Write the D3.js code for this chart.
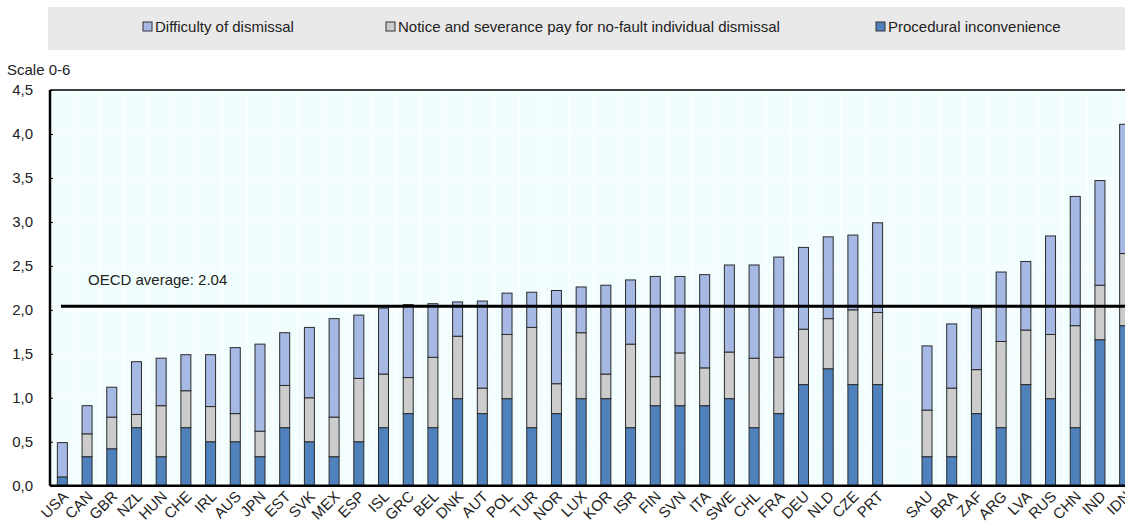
<!DOCTYPE html>
<html>
<head>
<meta charset="utf-8">
<script src="https://cdn.jsdelivr.net/npm/d3@7"></script>
<style>
  body { margin: 0; background: #fff; }
  text { font-family: "Liberation Sans", Arial, sans-serif; fill: #222; }
</style>
</head>
<body>
<div id="chart"></div>
<script>
var countries = ["USA","CAN","GBR","NZL","HUN","CHE","IRL","AUS","JPN","EST","SVK","MEX","ESP",
  "ISL","GRC","BEL","DNK","AUT","POL","TUR","NOR","LUX","KOR","ISR","FIN","SVN","ITA","SWE",
  "CHL","FRA","DEU","NLD","CZE","PRT","",
  "SAU","BRA","ZAF","ARG","LVA","RUS","CHN","IND","IDN"];

// procedural inconvenience (bottom)
var procedural = [0.10,0.33,0.42,0.66,0.33,0.66,0.50,0.50,0.33,0.66,0.50,0.33,0.50,
  0.66,0.82,0.66,0.99,0.82,0.99,0.66,0.82,0.99,0.99,0.66,0.91,0.91,0.91,0.99,
  0.66,0.82,1.15,1.33,1.15,1.15,null,
  0.33,0.33,0.82,0.66,1.15,0.99,0.66,1.66,1.82];

// notice and severance pay (middle)
var notice = [0.00,0.26,0.36,0.15,0.58,0.42,0.40,0.32,0.29,0.48,0.50,0.45,0.72,
  0.61,0.41,0.80,0.71,0.29,0.73,1.14,0.34,0.75,0.28,0.95,0.33,0.60,0.43,0.53,
  0.79,0.64,0.63,0.57,0.85,0.82,null,
  0.53,0.78,0.50,0.98,0.62,0.73,1.16,0.62,0.82];

// difficulty of dismissal (top)
var difficulty = [0.39,0.32,0.34,0.60,0.54,0.41,0.59,0.75,0.99,0.60,0.80,1.12,0.72,
  0.75,0.83,0.61,0.39,0.99,0.47,0.40,1.06,0.52,1.01,0.73,1.14,0.87,1.06,0.99,
  1.06,1.14,0.93,0.93,0.85,1.02,null,
  0.73,0.73,0.70,0.79,0.78,1.12,1.47,1.19,1.47];

var seriesNames = ["Difficulty of dismissal","Notice and severance pay for no-fault individual dismissal","Procedural inconvenience"];
var seriesColors = ["#a6b8e4","#cccccc","#4f81bd"];
var yTicks = [0,0.5,1,1.5,2,2.5,3,3.5,4,4.5];
var oecdAverage = 2.04;

var svgWidth = 1125, svgHeight = 522;
var margin = {top: 90, left: 50, bottom: 37};
var plotRight = 1137;
var plotBottom = svgHeight - margin.bottom + 0.7;

var svg = d3.select("#chart").append("svg")
  .attr("width", svgWidth)
  .attr("height", svgHeight);

var x = d3.scaleBand().domain(d3.range(countries.length)).range([margin.left, plotRight]);
var y = d3.scaleLinear().domain([0, 4.5]).range([plotBottom, margin.top]);

// plot background
svg.append("rect")
  .attr("x", margin.left).attr("y", margin.top)
  .attr("width", plotRight - margin.left).attr("height", plotBottom - margin.top)
  .attr("fill", "#f2fefe");

// faint grid
svg.append("g").selectAll("line")
  .data(d3.range(1, countries.length))
  .enter().append("line")
  .attr("x1", i => x(i)).attr("x2", i => x(i))
  .attr("y1", margin.top).attr("y2", plotBottom)
  .attr("stroke", "#ffffff").attr("stroke-width", 1);

svg.append("g").selectAll("line")
  .data(yTicks.slice(1))
  .enter().append("line")
  .attr("x1", margin.left).attr("x2", plotRight)
  .attr("y1", d => y(d)).attr("y2", d => y(d))
  .attr("stroke", "#ffffff").attr("stroke-width", 1);

// stacked bars
var rows = countries.map(function(c, i) {
  return {i: i, c: c, procedural: procedural[i], notice: notice[i], difficulty: difficulty[i]};
}).filter(d => d.c !== "");

var stacked = d3.stack().keys(["procedural","notice","difficulty"])(rows);
var keyColor = {procedural: seriesColors[2], notice: seriesColors[1], difficulty: seriesColors[0]};
var barW = 10;

svg.append("g").selectAll("g")
  .data(stacked)
  .enter().append("g")
  .attr("fill", d => keyColor[d.key])
  .selectAll("rect")
  .data(d => d)
  .enter().append("rect")
  .attr("x", d => x(d.data.i) + x.bandwidth() / 2 - barW / 2)
  .attr("width", barW)
  .attr("y", d => y(d[1]))
  .attr("height", d => Math.max(0, y(d[0]) - y(d[1])))
  .attr("stroke", "#2b2b2b")
  .attr("stroke-width", 1);

// OECD average line
svg.append("line")
  .attr("x1", 61).attr("x2", plotRight)
  .attr("y1", y(oecdAverage)).attr("y2", y(oecdAverage))
  .attr("stroke", "#000").attr("stroke-width", 3);

svg.append("text")
  .attr("x", 88).attr("y", 285)
  .style("font-size", "15px")
  .text("OECD average: " + oecdAverage.toFixed(2));

// frame: left axis, bottom axis, top line
svg.append("line").attr("x1", margin.left).attr("x2", margin.left)
  .attr("y1", margin.top).attr("y2", plotBottom)
  .attr("stroke", "#000").attr("stroke-width", 2.5);
svg.append("line").attr("x1", margin.left).attr("x2", plotRight)
  .attr("y1", plotBottom).attr("y2", plotBottom)
  .attr("stroke", "#000").attr("stroke-width", 2.5);
svg.append("line").attr("x1", margin.left).attr("x2", plotRight)
  .attr("y1", margin.top).attr("y2", margin.top)
  .attr("stroke", "#000").attr("stroke-width", 1.5);

// y axis
var yAxis = svg.append("g")
  .attr("transform", `translate(${margin.left},0)`)
  .call(d3.axisLeft(y).tickValues(yTicks).tickSize(-3).tickPadding(17)
    .tickFormat(d => d3.format(".1f")(d).replace(".", ",")));
yAxis.select(".domain").remove();
yAxis.selectAll("line").attr("stroke", "#000");
yAxis.selectAll("text").style("font-size", "15px").attr("fill", "#222")
  .style("font-family", "'Liberation Sans', Arial, sans-serif");

svg.append("text")
  .attr("x", 7).attr("y", 75)
  .style("font-size", "15px")
  .text("Scale 0-6");

// x labels, rotated 45 degrees
var xLabels = svg.append("g").selectAll("g")
  .data(rows)
  .enter().append("g")
  .attr("transform", d => "translate(" + (x(d.i) + x.bandwidth() / 2 + 3) + "," + (plotBottom + 8) + ")");

xLabels.append("text")
  .attr("transform", "rotate(-45)")
  .attr("text-anchor", "end")
  .attr("dy", "0.35em")
  .style("font-size", "15px")
  .text(d => d.c);

// legend
var legend = svg.append("g");
legend.append("rect")
  .attr("x", 48).attr("y", 7).attr("width", svgWidth - 48).attr("height", 43)
  .attr("fill", "#e9e9e9");

var legendX = [143, 386, 876];
var legendItems = legend.selectAll("g")
  .data(seriesNames)
  .enter().append("g")
  .attr("transform", (d, i) => `translate(${legendX[i]},22)`);

legendItems.append("rect")
  .attr("width", 9).attr("height", 9)
  .attr("fill", (d, i) => seriesColors[i])
  .attr("stroke", "#333").attr("stroke-width", 1);

legendItems.append("text")
  .attr("x", 12).attr("y", 10)
  .style("font-size", "15px")
  .text(d => d);
</script>
</body>
</html>
